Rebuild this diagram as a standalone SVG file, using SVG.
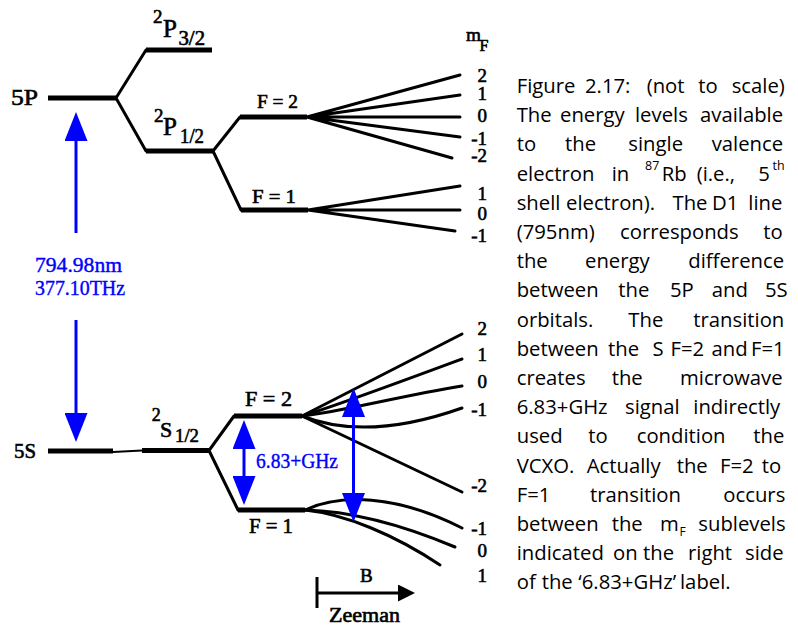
<svg xmlns="http://www.w3.org/2000/svg" width="798" height="627" viewBox="0 0 798 627">
<style>
.lv{stroke:#000;stroke-width:5;fill:none}
.ln{stroke:#000;stroke-width:3;fill:none;stroke-linecap:round}
.thin{stroke:#000;stroke-width:2;fill:none}
.bl{stroke:#00f;stroke-width:3;fill:none}
.t{font-family:"Liberation Serif","Times New Roman",serif;fill:#000;stroke:#000;stroke-width:0.6}
.b{fill:#00f;stroke:#00f;stroke-width:0.4}
.mf{font-family:"Liberation Serif","Times New Roman",serif;font-size:19px;fill:#000;stroke:#000;stroke-width:0.6;text-anchor:end}
.cap{font-family:"Open Sans","Noto Sans",sans-serif;font-size:20.3px;fill:#000}
.sup{font-size:12.5px}
</style>
<defs>
<marker id="ah" markerUnits="userSpaceOnUse" viewBox="0 0 29 23" markerWidth="29" markerHeight="23" refX="24" refY="11.5" orient="auto-start-reverse">
<path d="M0,0 L29,11.5 L0,23 z" fill="#00f"/>
</marker>
<marker id="zh" markerUnits="userSpaceOnUse" viewBox="0 0 17 17" markerWidth="17" markerHeight="17" refX="13" refY="8.5" orient="auto">
<path d="M0,0 L17,8.5 L0,17 z" fill="#000"/>
</marker>
</defs>

<g id="level-5P">
<text class="t" x="11" y="105" font-size="23" textLength="27" lengthAdjust="spacingAndGlyphs">5P</text>
<line class="lv" x1="48" y1="98" x2="116" y2="98"/>
</g>
<g id="level-2P32">
<text class="t" x="153" y="23" font-size="19">2</text>
<text class="t" x="163" y="36.7" font-size="25">P</text>
<text class="t" x="178.5" y="45" font-size="20" textLength="26.5" lengthAdjust="spacingAndGlyphs">3/2</text>
<line class="lv" x1="146" y1="50" x2="212" y2="50"/>
</g>
<g id="level-2P12">
<text class="t" x="154" y="121.7" font-size="19">2</text>
<text class="t" x="163" y="135" font-size="25">P</text>
<text class="t" x="180" y="143" font-size="20" textLength="24" lengthAdjust="spacingAndGlyphs">1/2</text>
<line class="lv" x1="146" y1="151" x2="213" y2="151"/>
</g>
<g id="level-P-F2">
<text class="t" x="257" y="107.7" font-size="19" textLength="41" lengthAdjust="spacingAndGlyphs">F = 2</text>
<line class="lv" x1="240" y1="117" x2="307" y2="117"/>
</g>
<g id="level-P-F1">
<text class="t" x="252" y="203" font-size="19" textLength="44" lengthAdjust="spacingAndGlyphs">F = 1</text>
<line class="lv" x1="241" y1="210" x2="308" y2="210"/>
</g>
<g id="mF-labels-top">
<text class="t" x="466" y="41" font-size="19" textLength="15" lengthAdjust="spacingAndGlyphs">m</text>
<text class="t" x="479.5" y="50.7" font-size="16">F</text>
<text class="mf" x="487" y="82">2</text>
<text class="mf" x="487" y="100">1</text>
<text class="mf" x="487" y="121.7">0</text>
<text class="mf" x="487" y="144.5">-1</text>
<text class="mf" x="487" y="161.7">-2</text>
<text class="mf" x="487" y="200">1</text>
<text class="mf" x="487" y="220">0</text>
<text class="mf" x="487" y="241.5">-1</text>
</g>

<g id="level-5S">
<text class="t" x="14" y="458" font-size="22" textLength="22" lengthAdjust="spacingAndGlyphs">5S</text>
<line class="lv" x1="48" y1="451" x2="113" y2="451"/>
</g>
<g id="level-2S12">
<text class="t" x="151.7" y="420.7" font-size="18">2</text>
<text class="t" x="160" y="436.7" font-size="22">S</text>
<text class="t" x="175" y="441.7" font-size="19" textLength="24" lengthAdjust="spacingAndGlyphs">1/2</text>
<line class="lv" x1="142" y1="450.5" x2="209" y2="450.5"/>
</g>
<g id="level-S-F2">
<text class="t" x="245" y="405.7" font-size="21" textLength="47" lengthAdjust="spacingAndGlyphs">F = 2</text>
<line class="lv" x1="234" y1="416" x2="302" y2="416"/>
</g>
<g id="level-S-F1">
<text class="t" x="249" y="532.7" font-size="21" textLength="44" lengthAdjust="spacingAndGlyphs">F = 1</text>
<line class="lv" x1="238" y1="510" x2="305" y2="510"/>
</g>
<g id="mF-labels-bottom">
<text class="mf" x="487" y="335">2</text>
<text class="mf" x="487" y="360.7">1</text>
<text class="mf" x="487" y="388">0</text>
<text class="mf" x="487" y="416">-1</text>
<text class="mf" x="487" y="492">-2</text>
<text class="mf" x="487" y="535">-1</text>
<text class="mf" x="487" y="557">0</text>
<text class="mf" x="487" y="582">1</text>
</g>

<g id="connectors">
<path class="ln" d="M116,98 L146,50 M116,98 L146,151"/>
<path class="ln" d="M213,151 L240,117 M213,151 L241,210"/>
<path class="ln" d="M307,117 L460,75 M307,117 L460,95 M307,117 L460,117 M307,117 L460,137 M307,117 L452,158"/>
<path class="ln" d="M308,210 L460,186 M308,210 L460,210 M308,210 L455,231"/>
<path class="thin" d="M113,452 L142,450.5"/>
<path class="ln" d="M209,450.5 L234,416 M209,450.5 L238,510"/>
<path class="ln" d="M302,416 L462,334"/>
<path class="ln" d="M302,416 C330,408 400,382 462,359"/>
<path class="ln" d="M302,416 C340,412 400,396 462,386"/>
<path class="ln" d="M302,416 C345,433 400,430 462,408"/>
<path class="ln" d="M302,416 L462,492"/>
<path class="ln" d="M305,510 C340,494 395,494 462,528"/>
<path class="ln" d="M305,510 C350,511 400,524 455,547"/>
<path class="ln" d="M305,510 C345,514 395,535 440,565"/>
</g>

<g id="optical-transition">
<line class="bl" x1="76" y1="233" x2="76" y2="117" marker-end="url(#ah)"/>
<text class="t b" x="35" y="271.7" font-size="21" textLength="87" lengthAdjust="spacingAndGlyphs">794.98nm</text>
<text class="t b" x="35" y="295" font-size="21" textLength="90" lengthAdjust="spacingAndGlyphs">377.10THz</text>
<line class="bl" x1="76" y1="320" x2="76" y2="437" marker-end="url(#ah)"/>
</g>
<g id="hyperfine-transition">
<line class="bl" x1="244" y1="425" x2="244" y2="500" marker-start="url(#ah)" marker-end="url(#ah)"/>
<text class="t b" x="256" y="468" font-size="22" textLength="82" lengthAdjust="spacingAndGlyphs">6.83+GHz</text>
<line class="bl" x1="353.5" y1="393" x2="353.5" y2="517" marker-start="url(#ah)" marker-end="url(#ah)"/>
</g>
<g id="zeeman-axis">
<line class="ln" x1="317" y1="577" x2="317" y2="608" style="stroke-linecap:butt"/>
<line class="ln" x1="317" y1="593" x2="411" y2="593" style="stroke-linecap:butt" marker-end="url(#zh)"/>
<text class="t" x="360" y="581.7" font-size="19">B</text>
<text class="t" x="329" y="621.7" font-size="20" textLength="71" lengthAdjust="spacingAndGlyphs">Zeeman</text>
</g>

<g id="caption">
<text class="cap" y="93"><tspan x="516.7">Figure</tspan><tspan x="585">2.17:</tspan><tspan x="646.7">(not</tspan><tspan x="698.3">to</tspan><tspan x="731.7">scale)</tspan></text>
<text class="cap" y="122.2"><tspan x="516.7">The</tspan><tspan x="560">energy</tspan><tspan x="635">levels</tspan><tspan x="700">available</tspan></text>
<text class="cap" y="151.4"><tspan x="516.7">to</tspan><tspan x="565">the</tspan><tspan x="628.3">single</tspan><tspan x="711.7">valence</tspan></text>
<text class="cap" y="180.6"><tspan x="516.7">electron</tspan><tspan x="611.7">in</tspan><tspan x="645" y="169.5" class="sup">87</tspan><tspan x="661.7" y="180.6">Rb</tspan><tspan x="696.7">(i.e.,</tspan><tspan x="758.3">5</tspan><tspan x="772.5" y="169.5" class="sup">th</tspan></text>
<text class="cap" y="209.8"><tspan x="516.7">shell</tspan><tspan x="566">electron).</tspan><tspan x="672.5">The</tspan><tspan x="712">D1</tspan><tspan x="748.3">line</tspan></text>
<text class="cap" y="239"><tspan x="516.7">(795nm)</tspan><tspan x="620">corresponds</tspan><tspan x="763.3">to</tspan></text>
<text class="cap" y="268.2"><tspan x="516.7">the</tspan><tspan x="585">energy</tspan><tspan x="688.3">difference</tspan></text>
<text class="cap" y="297.4"><tspan x="516.7">between</tspan><tspan x="618.3">the</tspan><tspan x="670">5P</tspan><tspan x="711.7">and</tspan><tspan x="765">5S</tspan></text>
<text class="cap" y="326.6"><tspan x="516.7">orbitals.</tspan><tspan x="628.3">The</tspan><tspan x="693.3">transition</tspan></text>
<text class="cap" y="355.8"><tspan x="516.7">between</tspan><tspan x="608">the</tspan><tspan x="652.5">S</tspan><tspan x="670.5">F=2</tspan><tspan x="711.5">and</tspan><tspan x="751">F=1</tspan></text>
<text class="cap" y="385"><tspan x="516.7">creates</tspan><tspan x="611.7">the</tspan><tspan x="680">microwave</tspan></text>
<text class="cap" y="414.2"><tspan x="516.7">6.83+GHz</tspan><tspan x="625">signal</tspan><tspan x="693.3">indirectly</tspan></text>
<text class="cap" y="443.4"><tspan x="516.7">used</tspan><tspan x="588.3">to</tspan><tspan x="636.7">condition</tspan><tspan x="753.3">the</tspan></text>
<text class="cap" y="472.6"><tspan x="516.7">VCXO.</tspan><tspan x="586.7">Actually</tspan><tspan x="676.7">the</tspan><tspan x="720">F=2</tspan><tspan x="761.7">to</tspan></text>
<text class="cap" y="501.8"><tspan x="516.7">F=1</tspan><tspan x="590">transition</tspan><tspan x="723.3">occurs</tspan></text>
<text class="cap" y="531"><tspan x="516.7">between</tspan><tspan x="611.7">the</tspan><tspan x="660">m</tspan><tspan x="679.5" y="535.5" style="font-size:12px">F</tspan><tspan x="698.3" y="531">sublevels</tspan></text>
<text class="cap" y="560.2"><tspan x="516.7">indicated</tspan><tspan x="613">on</tspan><tspan x="643">the</tspan><tspan x="688">right</tspan><tspan x="745">side</tspan></text>
<text class="cap" y="589.4"><tspan x="516.7">of</tspan><tspan x="541.7">the</tspan><tspan x="578.3">‘6.83+GHz’</tspan><tspan x="680">label.</tspan></text>
</g>
</svg>
